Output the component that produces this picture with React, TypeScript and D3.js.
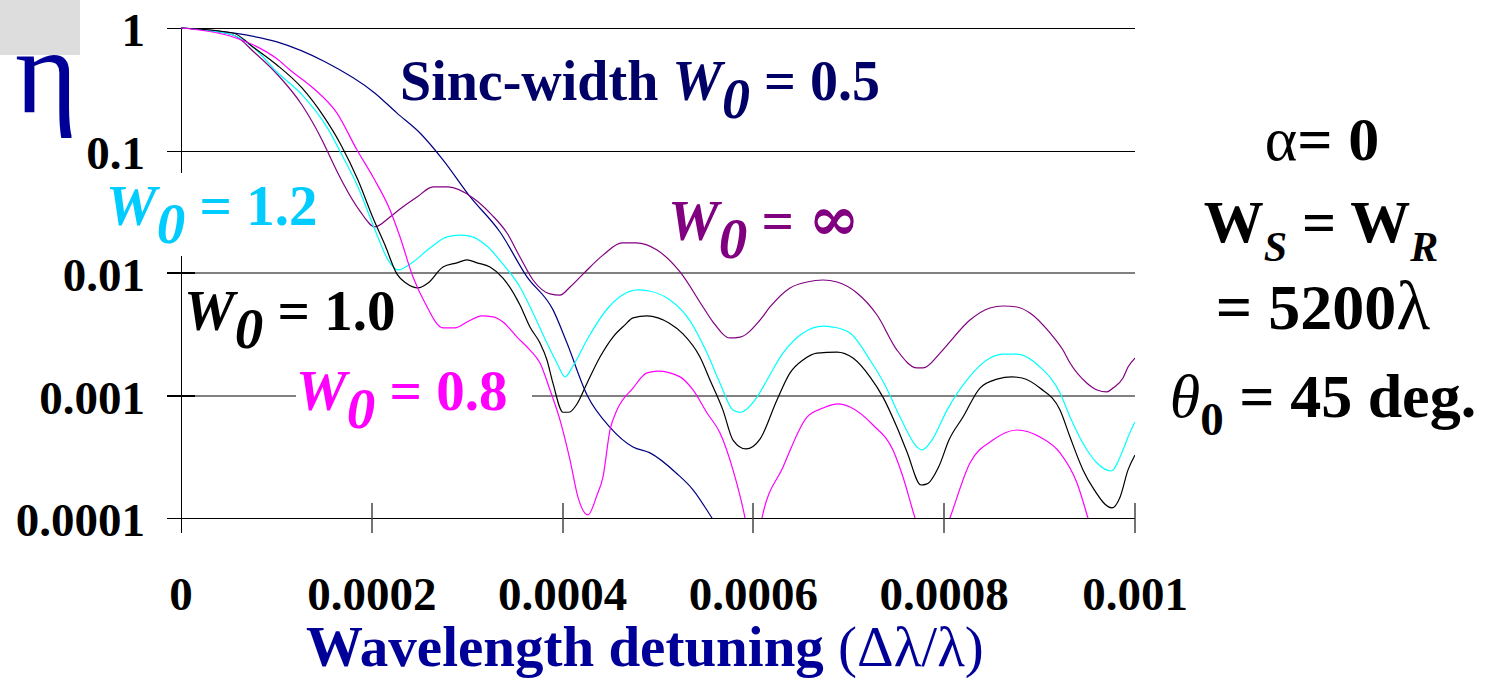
import React from "react";
import * as d3 from "d3";

const X_TICKS = [0, 0.0002, 0.0004, 0.0006, 0.0008, 0.001];
const X_TICK_LABELS = ["0", "0.0002", "0.0004", "0.0006", "0.0008", "0.001"];
const Y_TICKS = [1, 0.1, 0.01, 0.001, 0.0001];
const Y_TICK_LABELS = ["1", "0.1", "0.01", "0.001", "0.0001"];

// [detuning in units of 1e-4, efficiency eta]
const W0_05 = [
  [0, 1], [0.545, 0.91], [1.006, 0.77], [1.509, 0.53], [2.03, 0.295], [2.264, 0.202],
  [2.505, 0.139], [2.746, 0.084], [3.03, 0.042], [3.344, 0.0216], [3.627, 0.0093],
  [3.9, 0.005], [4.046, 0.00268], [4.256, 0.00101], [4.497, 0.00055], [4.738, 0.00038],
  [4.916, 0.00034], [5.199, 0.00023], [5.367, 0.00017], [5.566, 0.0001], [5.75, 0.00006],
];
const W0_08 = [
  [0, 1], [0.545, 0.845], [0.755, 0.73], [1.006, 0.56], [1.143, 0.454], [1.384, 0.324],
  [1.635, 0.202], [1.845, 0.101], [2.013, 0.0608], [2.191, 0.0327], [2.296, 0.0197],
  [2.432, 0.00927], [2.558, 0.00569], [2.746, 0.00356], [2.872, 0.00356], [2.998, 0.00398],
  [3.155, 0.00446], [3.27, 0.00438], [3.375, 0.00398], [3.522, 0.003], [3.658, 0.00235],
  [3.763, 0.00184], [3.868, 0.00111], [3.973, 0.00063], [4.078, 0.000297], [4.161, 0.000148],
  [4.266, 0.000106], [4.361, 0.000154], [4.423, 0.000216], [4.497, 0.000523], [4.57, 0.00076],
  [4.738, 0.00115], [4.885, 0.00153], [5.0, 0.00158], [5.231, 0.00142], [5.367, 0.00111],
  [5.514, 0.00072], [5.65, 0.000494], [5.786, 0.000247], [5.912, 0.0001], [6.0, 0.00004],
  [6.09, 0.0001], [6.31, 0.00026], [6.562, 0.000667], [6.73, 0.00079], [6.887, 0.000853],
  [7.013, 0.000805], [7.254, 0.000574], [7.463, 0.000359], [7.568, 0.000216], [7.694, 0.0001],
  [7.87, 0.00004], [8.06, 0.0001], [8.27, 0.000281], [8.51, 0.000433], [8.763, 0.000523],
  [9.004, 0.000458], [9.214, 0.00034], [9.392, 0.000193], [9.507, 0.0001], [9.7, 0.00003],
];
const W0_10 = [
  [0, 1], [0.545, 0.91], [0.755, 0.7], [1.006, 0.499], [1.268, 0.324], [1.499, 0.188],
  [1.677, 0.111], [1.855, 0.0574], [2.013, 0.0281], [2.138, 0.0169], [2.264, 0.0098],
  [2.358, 0.00828], [2.484, 0.00755], [2.589, 0.00828], [2.746, 0.0112], [2.893, 0.0121],
  [2.998, 0.0128], [3.103, 0.0121], [3.239, 0.0112], [3.375, 0.0091], [3.553, 0.00548],
  [3.658, 0.00362], [3.763, 0.00268], [3.836, 0.00195], [3.899, 0.00126], [4.004, 0.00073],
  [4.067, 0.00073], [4.151, 0.000853], [4.256, 0.00126], [4.392, 0.00206], [4.528, 0.003],
  [4.654, 0.00377], [4.738, 0.0043], [4.885, 0.00446], [5.0, 0.0043], [5.115, 0.00391],
  [5.262, 0.00318], [5.44, 0.00206], [5.545, 0.00134], [5.681, 0.00076], [5.786, 0.000433],
  [5.922, 0.000366], [6.069, 0.000441], [6.247, 0.00092], [6.384, 0.00153], [6.52, 0.00195],
  [6.667, 0.00222], [6.876, 0.00226], [7.044, 0.00202], [7.222, 0.00142], [7.358, 0.00097],
  [7.505, 0.00055], [7.61, 0.000346], [7.757, 0.000186], [7.82, 0.00019], [7.946, 0.000266],
  [8.05, 0.000433], [8.197, 0.000667], [8.375, 0.00115], [8.553, 0.00136], [8.711, 0.00142],
  [8.816, 0.00139], [9.004, 0.00115], [9.214, 0.00076], [9.319, 0.000458], [9.455, 0.000247],
  [9.56, 0.000176], [9.759, 0.000121], [9.843, 0.000148], [9.927, 0.000247], [10.0, 0.000327],
];
const W0_12 = [
  [0, 1], [0.545, 0.877], [0.776, 0.674], [1.006, 0.437], [1.279, 0.279], [1.53, 0.155],
  [1.698, 0.0885], [1.855, 0.0504], [2.055, 0.0204], [2.17, 0.0128], [2.275, 0.0106],
  [2.432, 0.0123], [2.61, 0.016], [2.788, 0.0197], [2.925, 0.0204], [3.029, 0.02],
  [3.218, 0.0163], [3.375, 0.0118], [3.553, 0.00769], [3.69, 0.00471], [3.836, 0.00268],
  [3.941, 0.00184], [4.025, 0.00142], [4.109, 0.00174], [4.266, 0.00295], [4.476, 0.00518],
  [4.612, 0.00649], [4.79, 0.00727], [4.906, 0.00713], [5.126, 0.00602], [5.314, 0.0043],
  [5.514, 0.00222], [5.65, 0.00126], [5.786, 0.00076], [5.86, 0.00073], [6.038, 0.00097],
  [6.143, 0.00134], [6.31, 0.00222], [6.52, 0.00324], [6.73, 0.00369], [6.834, 0.00362],
  [7.013, 0.00324], [7.222, 0.00195], [7.379, 0.00122], [7.537, 0.000667], [7.715, 0.00038],
  [7.767, 0.000359], [7.872, 0.000433], [8.03, 0.00076], [8.239, 0.00134], [8.48, 0.00202],
  [8.616, 0.00218], [8.763, 0.00218], [9.004, 0.00171], [9.214, 0.00105], [9.319, 0.000667],
  [9.497, 0.000359], [9.602, 0.000281], [9.748, 0.000242], [9.874, 0.000359], [9.927, 0.000458],
  [10.0, 0.000608],
];
const W0_INF = [
  [0, 1], [0.545, 0.877], [0.776, 0.625], [1.006, 0.421], [1.268, 0.235], [1.478, 0.122],
  [1.593, 0.079], [1.698, 0.0543], [1.876, 0.032], [2.034, 0.0238], [2.191, 0.0287],
  [2.296, 0.0333], [2.474, 0.0417], [2.642, 0.0504], [2.799, 0.0504], [3.061, 0.041],
  [3.26, 0.0297], [3.417, 0.0212], [3.553, 0.0135], [3.69, 0.00877], [3.868, 0.00675],
  [3.973, 0.0066], [4.078, 0.00769], [4.214, 0.0098], [4.423, 0.014], [4.623, 0.0176],
  [4.769, 0.0176], [4.99, 0.0154], [5.231, 0.0102], [5.472, 0.00528], [5.577, 0.00398],
  [5.755, 0.00295], [5.86, 0.003], [6.069, 0.00413], [6.174, 0.00528], [6.384, 0.00755],
  [6.562, 0.00845], [6.73, 0.00877], [6.876, 0.00845], [7.086, 0.00687], [7.296, 0.00454],
  [7.505, 0.00235], [7.715, 0.00168], [7.778, 0.00168], [7.956, 0.00222], [8.03, 0.00258],
  [8.27, 0.00413], [8.48, 0.00518], [8.616, 0.00538], [8.763, 0.00528], [8.899, 0.00471],
  [9.109, 0.00324], [9.245, 0.00235], [9.319, 0.00184], [9.497, 0.00126], [9.602, 0.00111],
  [9.706, 0.00107], [9.769, 0.00115], [9.874, 0.00139], [9.927, 0.00171], [10.0, 0.00202],
];

const SERIES = [
  { pts: W0_05, color: "#000080" },
  { pts: W0_INF, color: "#800080" },
  { pts: W0_12, color: "#00ffff" },
  { pts: W0_10, color: "#000000" },
  { pts: W0_08, color: "#ff00ff" },
];

const LABELS = [
  { value: "1.2", color: "#00ccff", x: 106, y: 225 },
  { value: "1.0", color: "#000000", x: 184, y: 330 },
  { value: "0.8", color: "#ff00ff", x: 296, y: 410 },
];

const FONT = "'Liberation Serif', 'Times New Roman', serif";

function WSub({ sub }: { sub: string }) {
  return (
    <>
      <tspan fontStyle="italic">W</tspan>
      <tspan fontStyle="italic" dy={18}>{sub}</tspan>
    </>
  );
}

export default function App() {
  const width = 1490;
  const height = 681;
  const x = d3.scaleLinear().domain([0, 0.001]).range([181, 1135]);
  const y = d3.scaleLog().domain([0.0001, 1]).range([518, 28]);
  const line = d3
    .line<number[]>()
    .x((d) => x(d[0] * 1e-4))
    .y((d) => y(d[1]))
    .curve(d3.curveMonotoneX);

  return (
    <svg
      width={width}
      height={height}
      style={{ position: "absolute", left: 0, top: 0, background: "#fff" }}
      fontFamily={FONT}
    >
      <defs>
        <clipPath id="plot">
          <rect x={181} y={20} width={954} height={498} />
        </clipPath>
      </defs>
      <rect x={0} y={0} width={80} height={55} fill="#dddddd" />
      <text x={15} y={112} fontSize={120} fill="#000099">η</text>

      {/* gridlines */}
      {Y_TICKS.map((t) => {
        const yy = Math.round(y(t));
        const soft = t === 0.01 || t === 0.001;
        return (
          <g key={t}>
            <line x1={167} x2={1135} y1={yy} y2={yy}
              stroke={soft ? "#808080" : "#000"} strokeWidth={soft ? 2 : 1}
              shapeRendering="crispEdges" />
            <line x1={167} x2={195} y1={yy} y2={yy} stroke="#000" strokeWidth={soft ? 2 : 1}
              shapeRendering="crispEdges" />
          </g>
        );
      })}
      {Y_TICK_LABELS.map((s, i) => (
        <text key={s} x={145} y={Math.round(y(Y_TICKS[i])) + 18} textAnchor="end"
          fontSize={47} fontWeight="bold">{s}</text>
      ))}

      {/* axis */}
      <line x1={181} x2={181} y1={28} y2={533} stroke="#000" strokeWidth={1} shapeRendering="crispEdges" />
      {X_TICKS.slice(1).map((t) => (
        <line key={t} x1={Math.round(x(t))} x2={Math.round(x(t))} y1={503} y2={533}
          stroke="#444" strokeWidth={1.5} />
      ))}
      {X_TICK_LABELS.map((s, i) => (
        <text key={s} x={x(X_TICKS[i])} y={610} textAnchor="middle" fontSize={47} fontWeight="bold">{s}</text>
      ))}

      {/* label backgrounds */}
      <rect x={100} y={173} width={232} height={83} fill="#fff" />
      <rect x={296} y={362} width={236} height={75} fill="#fff" />

      <text x={400} y={100} fontSize={56} fontWeight="bold" fill="#000066" style={{ whiteSpace: "pre" }}>
        <tspan>{"Sinc-width "}</tspan>
        <WSub sub="0" />
        <tspan dy={-18}>{" = 0.5"}</tspan>
      </text>
      {LABELS.map((l) => (
        <text key={l.value} x={l.x} y={l.y} fontSize={57} fontWeight="bold" fill={l.color}
          style={{ whiteSpace: "pre" }}>
          <WSub sub="0" />
          <tspan dy={-18}>{" = " + l.value}</tspan>
        </text>
      ))}
      <text x={668} y={240} fontSize={57} fontWeight="bold" fill="#800080" style={{ whiteSpace: "pre" }}>
        <WSub sub="0" />
        <tspan dy={-18}>{" = "}</tspan>
        <tspan fontFamily="'DejaVu Serif', serif" fontSize={62}>∞</tspan>
      </text>

      <g clipPath="url(#plot)">
        {SERIES.map((s, i) => (
          <path key={i} d={line(s.pts) || ""} fill="none" stroke={s.color} strokeWidth={1.2} />
        ))}
      </g>

      {/* parameters */}
      <g fontSize={62} fontWeight="bold" textAnchor="middle" style={{ whiteSpace: "pre" }}>
        <text x={1322} y={160}>
          <tspan fontWeight="normal">α</tspan>
          <tspan>{"= 0"}</tspan>
        </text>
        <text x={1321} y={242} fontSize={60}>
          <tspan>W</tspan>
          <tspan fontStyle="italic" fontSize={42} dy={19}>S</tspan>
          <tspan dy={-19}>{" = W"}</tspan>
          <tspan fontStyle="italic" fontSize={42} dy={19}>R</tspan>
        </text>
        <text x={1323} y={329} fontSize={64}>
          <tspan>{"= 5200"}</tspan>
          <tspan fontWeight="normal" fontSize={70}>λ</tspan>
        </text>
        <text x={1323} y={417}>
          <tspan fontStyle="italic" fontWeight="normal">θ</tspan>
          <tspan fontSize={47} dy={18}>0</tspan>
          <tspan dy={-18}>{" = 45 deg."}</tspan>
        </text>
      </g>

      <text x={306} y={666} fontSize={57} fontWeight="bold" fill="#000099" style={{ whiteSpace: "pre" }}>
        <tspan>{"Wavelength detuning "}</tspan>
        <tspan fontWeight="normal">(Δλ/λ)</tspan>
      </text>
    </svg>
  );
}
